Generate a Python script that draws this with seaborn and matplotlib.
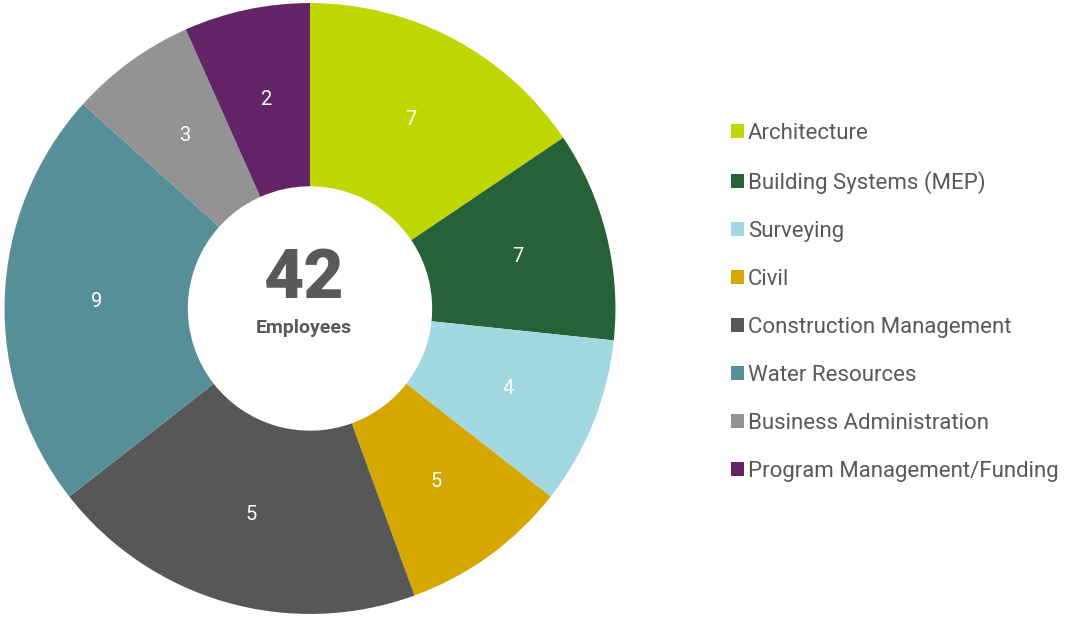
import matplotlib
matplotlib.use("Agg")
import matplotlib.pyplot as plt
import seaborn as sns

# departments, slice sizes as drawn, and the numbers printed on the slices
departments = ['Architecture', 'Building Systems (MEP)', 'Surveying', 'Civil',
               'Construction Management', 'Water Resources',
               'Business Administration', 'Program Management/Funding']
slice_sizes = [7, 5, 4, 4, 9, 10, 3, 3]
slice_labels = ['7', '7', '4', '5', '5', '9', '3', '2']
total_label = '42'
colors = ['#bfd600', '#276138', '#a2d8e0', '#d4a800',
          '#575757', '#578f98', '#939393', '#622466']

sns.set_style('white')
plt.rcParams['font.family'] = ['Roboto', 'DejaVu Sans']

fig = plt.figure(figsize=(10.68, 6.17), dpi=100)
ax = fig.add_axes([0.0, 0.0, 620 / 1068, 1.0])

wedges, texts = ax.pie(slice_sizes, colors=colors, startangle=90, counterclock=False,
                       labels=slice_labels, labeldistance=0.70,
                       wedgeprops=dict(width=0.60, linewidth=0),
                       textprops=dict(color='white', fontsize=14.5))
for t in texts:
    t.set_ha('center')
    t.set_va('center')
ax.set_aspect('equal')
ax.set_xlim(-1.01, 1.01)
ax.set_ylim(-1.01, 1.01)
ax.axis('off')

# total in the hole
ax.text(-0.02, 0.095, total_label, ha='center', va='center', fontsize=50,
        fontweight='black', color='#595959')
ax.text(-0.02, -0.065, 'Employees', ha='center', va='center', fontsize=14,
        fontweight='bold', color='#595959')

leg = fig.legend(wedges, departments, loc='upper left', bbox_to_anchor=(722 / 1068, 1 - 114 / 617),
                 frameon=False, fontsize=16, labelcolor='#595959',
                 handlelength=0.58, handleheight=0.58, handletextpad=0.2,
                 labelspacing=1.215, borderaxespad=0)

fig.savefig('out.png', dpi=100)
